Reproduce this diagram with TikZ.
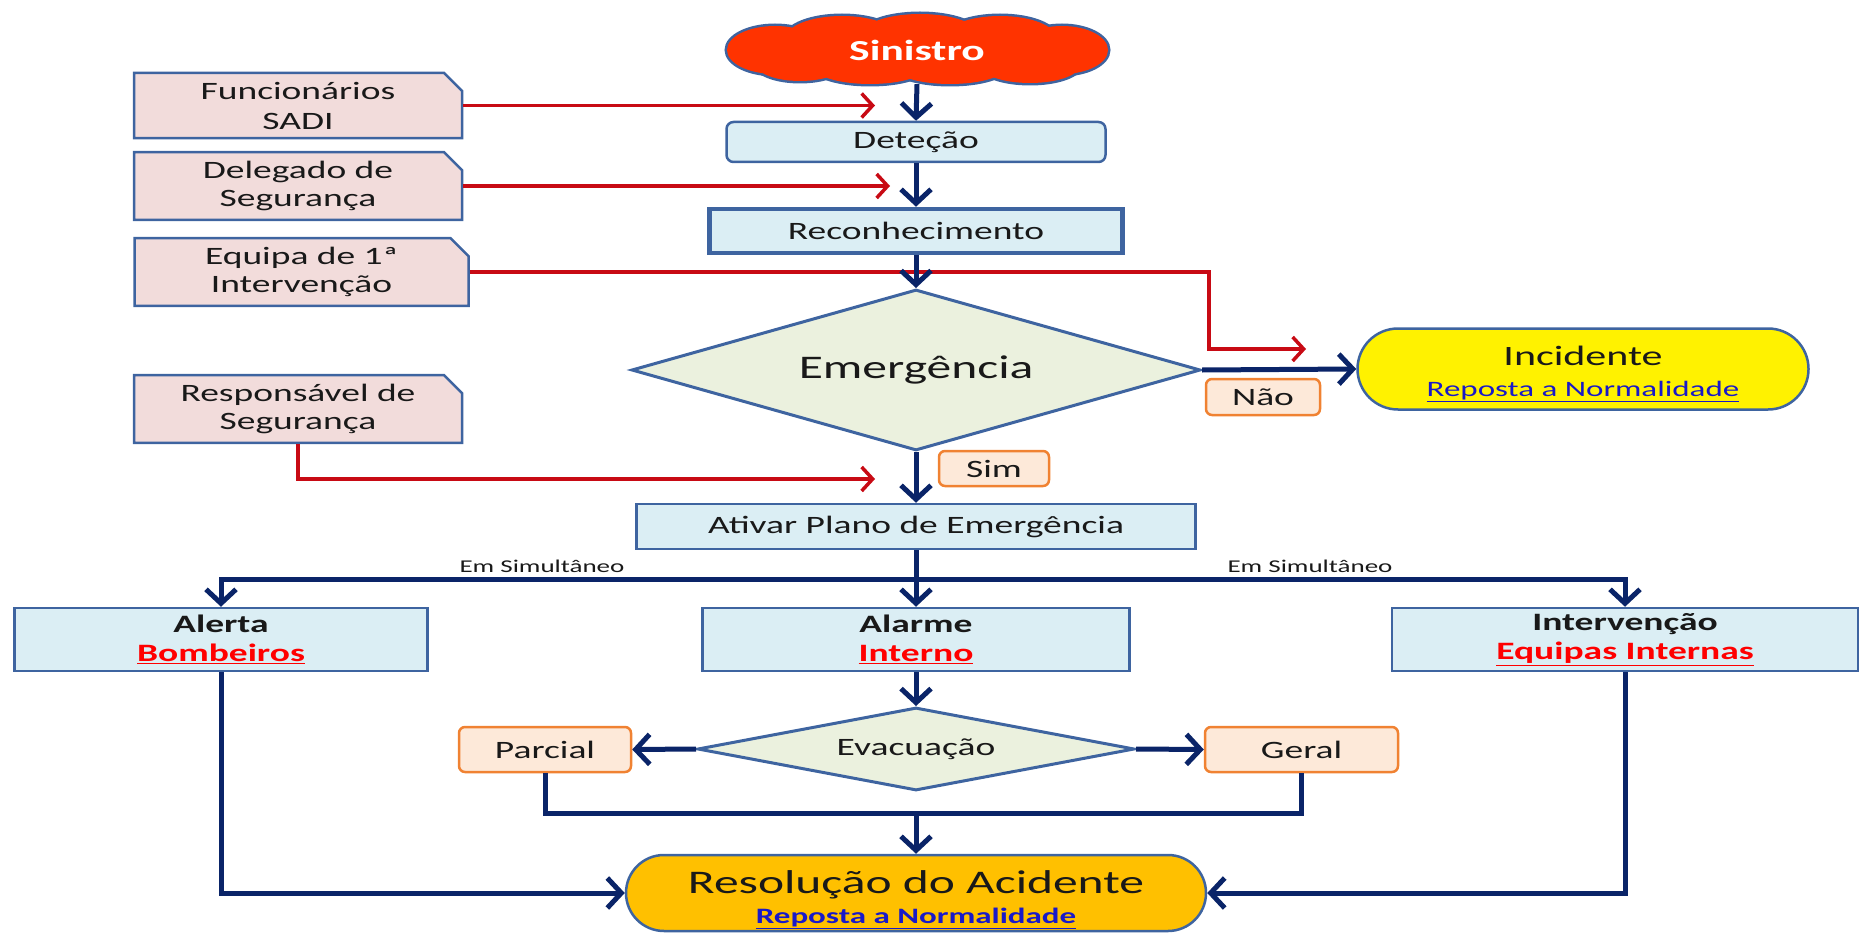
\documentclass[tikz,border=0pt]{standalone}
\usepackage{fontspec}
\setmainfont{Carlito}[FakeStretch=1.5]
\usetikzlibrary{arrows.meta,shapes.geometric,shapes.misc}
\definecolor{navy}{RGB}{10,36,104}
\definecolor{redarr}{RGB}{200,10,20}
\definecolor{bord}{RGB}{62,100,160}
\definecolor{lblue}{RGB}{219,238,244}
\definecolor{pink}{RGB}{242,220,219}
\definecolor{lgreen}{RGB}{235,241,222}
\definecolor{orbord}{RGB}{240,130,50}
\definecolor{orfill}{RGB}{253,233,217}
\definecolor{gold}{RGB}{255,192,0}
\definecolor{cloudred}{RGB}{255,51,0}
\definecolor{linkblue}{RGB}{25,25,200}
\definecolor{txt}{RGB}{25,25,25}
\begin{document}
\begin{tikzpicture}[x=1pt,y=-1pt,
  every node/.style={text=txt, font=\fontsize{25}{29}\selectfont, inner sep=0pt, align=center},
  bluebox/.style={rectangle, draw=bord, fill=lblue, line width=2.5pt},
  pbox/.style={chamfered rectangle, chamfered rectangle corners=north east,
     chamfered rectangle xsep=9pt, chamfered rectangle ysep=9pt,
     draw=bord, fill=pink, line width=2.5pt},
  dia/.style={diamond, draw=bord, fill=lgreen, line width=3pt},
  orbox/.style={rectangle, rounded corners=6pt, draw=orbord, fill=orfill, line width=2.5pt},
  stad/.style={rounded rectangle, draw=bord, line width=2.5pt},
  barrow/.style={draw=navy, line width=5pt, -{Straight Barb[length=14pt,width=30pt]}},
  bline/.style={draw=navy, line width=5pt},
  rarrow/.style={draw=redarr, line width=3.5pt, -{Straight Barb[length=11pt,width=24pt]}},
  puffs/.style={insert path={
     (775,50) ellipse [x radius=48, y radius=24]
     (842,38) ellipse [x radius=56, y radius=22]
     (920,36) ellipse [x radius=60, y radius=22]
     (1000,38) ellipse [x radius=56, y radius=22]
     (1062,50) ellipse [x radius=46, y radius=24]
     (1030,65) ellipse [x radius=50, y radius=18]
     (950,67) ellipse [x radius=56, y radius=17]
     (870,67) ellipse [x radius=56, y radius=17]
     (800,63) ellipse [x radius=45, y radius=18]
     (917,52) ellipse [x radius=150, y radius=24]}}
]
\useasboundingbox (0,0) rectangle (1859,933);

% cloud outline (outer edge only)
\foreach \cx/\cy/\rx/\ry in {775/50/48/24, 842/38/56/22, 920/36/60/22, 1000/38/56/22, 1062/50/46/24,
    1030/65/50/18, 950/67/56/17, 870/67/56/17, 800/63/45/18, 917/52/150/24}
  \draw[draw=bord, fill=cloudred, line width=5pt] (\cx,\cy) ellipse [x radius=\rx, y radius=\ry];
\fill[cloudred, puffs];

% main column
\node[minimum width=380pt, minimum height=68pt] (sin) at (917,50)
      {\textcolor{white}{\fontsize{29}{32}\selectfont\bfseries Sinistro}};
\node[bluebox, rounded corners=7pt, minimum width=379pt, minimum height=40pt] (det) at (916,142) {Deteção};
\node[bluebox, line width=4.5pt, minimum width=413pt, minimum height=44pt] (rec) at (916,231) {Reconhecimento};
\node[dia, aspect=3.53, minimum width=569pt, minimum height=161pt] (emg) at (916,370)
      {\fontsize{33}{36}\selectfont Emergência};
\node[stad, fill=yellow, minimum width=451pt, minimum height=81pt] (inc) at (1583,369)
      {\rule{0pt}{30pt}{\fontsize{28}{30}\selectfont Incidente}\\[2pt]
       {\fontsize{22}{24}\selectfont\color{linkblue}\underline{Reposta a Normalidade}}};
\node[orbox, minimum width=114pt, minimum height=36pt] (nao) at (1263,397) {Não};
\node[orbox, minimum width=110pt, minimum height=35pt] (sim) at (994,468.5) {Sim};
\node[bluebox, minimum width=559pt, minimum height=45pt] (atv) at (916,526.5) {Ativar Plano de Emergência};

\node[font=\fontsize{18}{20}\selectfont] (es1) at (542,566) {Em Simultâneo};
\node[font=\fontsize{18}{20}\selectfont] (es2) at (1310,566) {Em Simultâneo};

\node[bluebox, minimum width=413pt, minimum height=63pt, font=\fontsize{25}{29}\selectfont\bfseries] (ale) at (221,639.5)
      {Alerta\\\textcolor{red}{\underline{Bombeiros}}};
\node[bluebox, minimum width=427pt, minimum height=63pt, font=\fontsize{25}{29}\selectfont\bfseries] (alm) at (916,639.5)
      {Alarme\\\textcolor{red}{\underline{Interno}}};
\node[bluebox, minimum width=466pt, minimum height=63pt, font=\fontsize{25}{29}\selectfont\bfseries] (int) at (1625,639.5)
      {Intervenção\\\textcolor{red}{\underline{Equipas Internas}}};

\node[dia, aspect=5.27, minimum width=437pt, minimum height=83pt] (eva) at (916,749) {Evacuação};
\node[orbox, minimum width=172pt, minimum height=45pt] (par) at (545,749.5) {Parcial};
\node[orbox, minimum width=193pt, minimum height=45pt] (ger) at (1301.5,749.5) {Geral};
\node[stad, fill=gold, minimum width=580pt, minimum height=76pt] (res) at (916,893)
      {\rule{0pt}{36pt}{\fontsize{33}{35}\selectfont Resolução do Acidente}\\[1pt]
       {\fontsize{22}{24}\selectfont\bfseries\color{linkblue}\underline{Reposta a Normalidade}}};

% left boxes
\node[pbox, minimum width=328pt, minimum height=55pt, font=\fontsize{25}{30}\selectfont] (fun) at (298,105.5) {Funcionários\\SADI};
\node[pbox, minimum width=328pt, minimum height=58pt, font=\fontsize{25}{28}\selectfont] (del) at (298,186) {Delegado de\\Segurança};
\node[pbox, minimum width=334pt, minimum height=60pt, font=\fontsize{25}{28}\selectfont] (equ) at (301.5,272) {Equipa de 1ª\\Intervenção};
\node[pbox, minimum width=328pt, minimum height=60pt, font=\fontsize{25}{28}\selectfont] (resp) at (298,409) {Responsável de\\Segurança};

% red connectors
\coordinate (r1) at (875,105.5);
\coordinate (r2) at (890,186);
\coordinate (r3c) at (1209,349);
\coordinate (r3) at (1306,349);
\coordinate (r4) at (875,479);
\draw[rarrow] (fun.east) -- (r1);
\draw[rarrow] (del.east) -- (r2);
\draw[rarrow] (equ.east) -| (r3c) -- (r3);
\draw[rarrow] (resp.south) |- (r4);

% blue connectors
\draw[barrow] (sin.south) -- (det.north);
\draw[barrow] (det.south) -- (rec.north);
\draw[barrow] (rec.south) -- (emg.north);
\draw[barrow] (emg.east) -- (inc.west);
\draw[barrow] (emg.south) -- (atv.north);
\coordinate (br) at (916,579);
\draw[barrow] (atv.south) -- (alm.north);
\draw[barrow] (br) -| (ale.north);
\draw[barrow] (br) -| (int.north);
\draw[barrow] (alm.south) -- (eva.north);
\draw[barrow] (eva.west) -- (par.east);
\draw[barrow] (eva.east) -- (ger.west);
\coordinate (col) at (916,813);
\draw[bline] (par.south) |- (col) -| (ger.south);
\draw[barrow] (col) -- (res.north);
\draw[barrow] (ale.south) |- (res.west);
\draw[barrow] (int.south) |- (res.east);
\end{tikzpicture}
\end{document}
